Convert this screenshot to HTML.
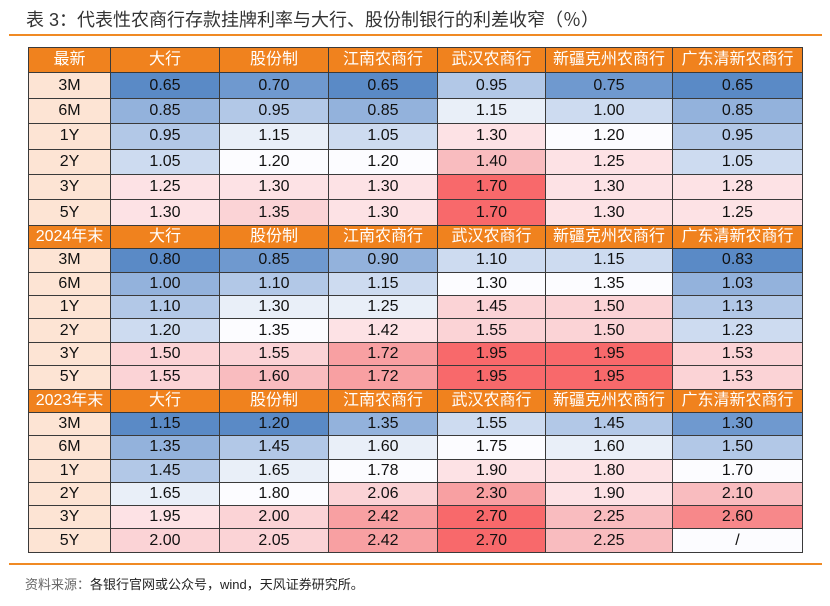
<!DOCTYPE html>
<html><head><meta charset="utf-8">
<style>
body{margin:0;width:830px;height:606px;background:#fff;position:relative;font-family:"Liberation Sans","Noto Sans CJK SC",sans-serif;overflow:hidden}
.title{position:absolute;left:26px;top:6px;font-size:18px;color:#333;white-space:nowrap}
.line{position:absolute;left:9px;width:813px;height:2px;background:#f08a24}
table{position:absolute;left:28px;top:47px;width:774px;border-collapse:collapse;table-layout:fixed}
td{border:1px solid #3a3a3a;text-align:center;font-size:16px;color:#111;padding:0;line-height:1}
tr.h td{background:#f0821e;color:#fff}
td.f{background:#fde4d4}
.foot{position:absolute;left:25px;top:574px;font-size:13px;color:#222}
.foot span{color:#666}
</style></head><body>
<div class="title">表 3：代表性农商行存款挂牌利率与大行、股份制银行的利差收窄（％）</div>
<div class="line" style="top:34px"></div>
<table id="t">
<colgroup><col style="width:82px"><col style="width:109px"><col style="width:109px"><col style="width:109px"><col style="width:108px"><col style="width:127px"><col style="width:130px"></colgroup>
</table>
<div class="line" style="top:563px"></div>
<div class="foot"><span>资料来源：</span>各银行官网或公众号，wind，天风证券研究所。</div>
<script>
var C={B1:"#5a8ac6",B2:"#6f99cf",B3:"#93b2dc",B4:"#b2c8e7",B5:"#cddbf0",B6:"#e9eff8",W:"#fcfcff",P1:"#fde2e5",P2:"#fbd3d6",P3:"#f9bcbf",P4:"#f8a0a2",P5:"#f7888a",R:"#f8696b"};
var H=["大行","股份制","江南农商行","武汉农商行","新疆克州农商行","广东清新农商行"];
var S=[
["最新",25.4,[
["3M","0.65 B1|0.70 B2|0.65 B1|0.95 B4|0.75 B2|0.65 B1"],
["6M","0.85 B3|0.95 B4|0.85 B3|1.15 B6|1.00 B5|0.85 B3"],
["1Y","0.95 B4|1.15 B6|1.05 B5|1.30 P1|1.20 W|0.95 B4"],
["2Y","1.05 B5|1.20 W|1.20 W|1.40 P3|1.25 P1|1.05 B5"],
["3Y","1.25 P1|1.30 P1|1.30 P1|1.70 R|1.30 P1|1.28 P1"],
["5Y","1.30 P1|1.35 P2|1.30 P1|1.70 R|1.30 P1|1.25 P1"]]],
["2024年末",23.43,[
["3M","0.80 B1|0.85 B2|0.90 B3|1.10 B5|1.15 B5|0.83 B1"],
["6M","1.00 B3|1.10 B4|1.15 B5|1.30 W|1.35 W|1.03 B3"],
["1Y","1.10 B4|1.30 B6|1.25 B6|1.45 P2|1.50 P2|1.13 B4"],
["2Y","1.20 B5|1.35 W|1.42 P1|1.55 P2|1.50 P2|1.23 B5"],
["3Y","1.50 P2|1.55 P2|1.72 P4|1.95 R|1.95 R|1.53 P2"],
["5Y","1.55 P2|1.60 P3|1.72 P4|1.95 R|1.95 R|1.53 P2"]]],
["2023年末",23.3,[
["3M","1.15 B1|1.20 B1|1.35 B3|1.55 B5|1.45 B4|1.30 B2"],
["6M","1.35 B3|1.45 B4|1.60 B6|1.75 W|1.60 B6|1.50 B4"],
["1Y","1.45 B4|1.65 B6|1.78 W|1.90 P1|1.80 P1|1.70 W"],
["2Y","1.65 B6|1.80 W|2.06 P2|2.30 P4|1.90 P1|2.10 P3"],
["3Y","1.95 P1|2.00 P2|2.42 P4|2.70 R|2.25 P3|2.60 P5"],
["5Y","2.00 P2|2.05 P2|2.42 P4|2.70 R|2.25 P3|/ W"]]]];
var h="";
S.forEach(function(s){
 h+='<tr class="h" style="height:'+s[1]+'px"><td>'+s[0]+'</td>'+H.map(function(x){return '<td>'+x+'</td>'}).join('')+'</tr>';
 s[2].forEach(function(r){
  h+='<tr style="height:'+s[1]+'px"><td class="f">'+r[0]+'</td>'+r[1].split('|').map(function(c){var p=c.split(' ');return '<td style="background:'+C[p[1]]+'">'+p[0]+'</td>'}).join('')+'</tr>';
 });
});
document.getElementById('t').insertAdjacentHTML('beforeend',h);
</script>
</body></html>
